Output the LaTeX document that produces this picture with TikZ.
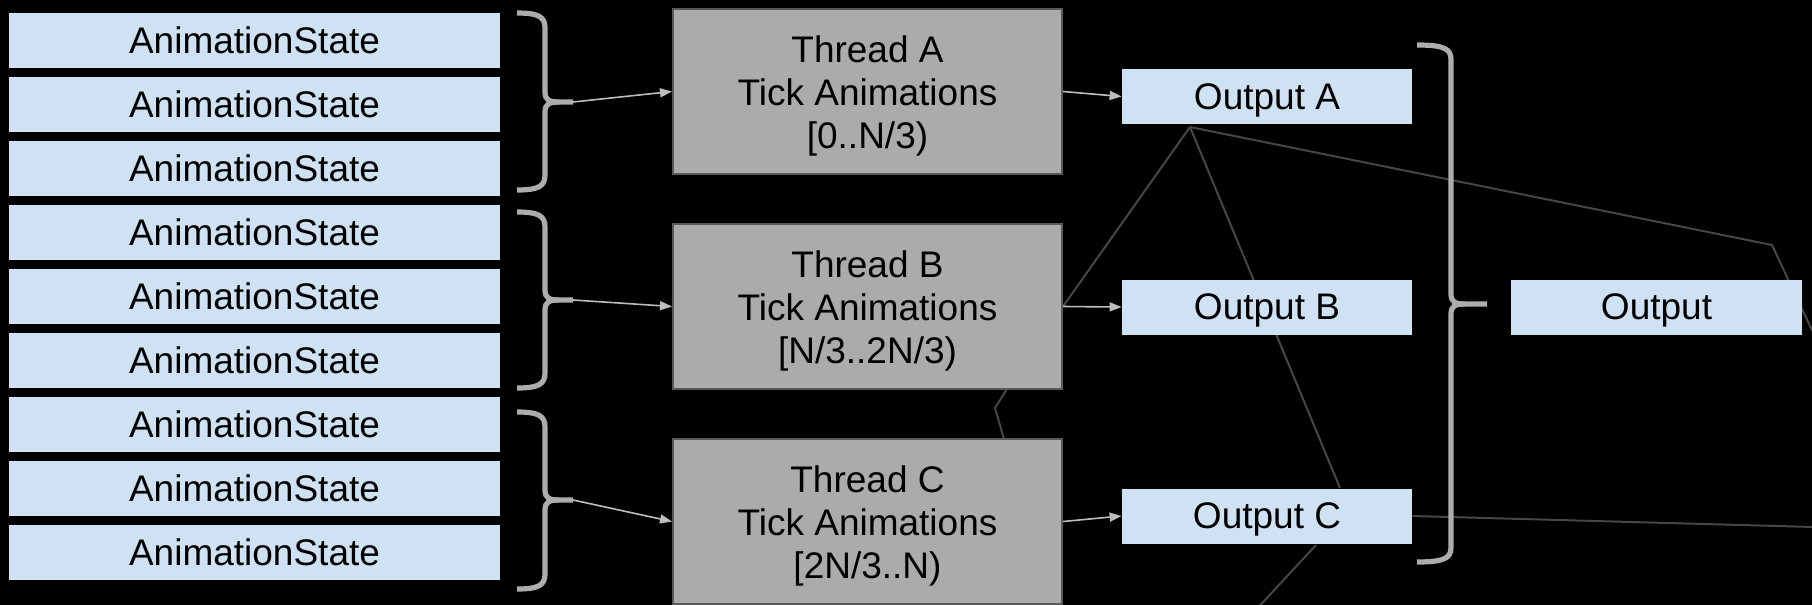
\documentclass[tikz,border=0pt]{standalone}
\usepackage{fontspec}
\setmainfont{Liberation Sans}
\usetikzlibrary{arrows.meta,calc}
\pgfdeclarelayer{bg}
\pgfdeclarelayer{wires}
\pgfsetlayers{bg,wires,main}

\definecolor{statefill}{HTML}{CFE2F3}
\definecolor{threadfill}{HTML}{ABABAB}
\definecolor{threadedge}{HTML}{595959}
\definecolor{bracegray}{HTML}{ADADAD}
\definecolor{arrowgray}{HTML}{BDBDBD}
\definecolor{wiregray}{HTML}{464646}

% extra head room on the first line of a thread label
\newcommand\leadroom{\rule{0pt}{18.2pt}}

% curly brace opening to the right:
% #1 x of the end hooks, #2 x of the spine, #3 x of the point,
% #4 top y, #5 middle y, #6 bottom y, #7 name of the point
\newcommand\gbrace[7]{%
  \draw[bracestroke] (#1,#4) .. controls ({#2-6},#4) and (#2,{#4+4}) .. (#2,{#4+15})
    -- (#2,{#5-10}) .. controls (#2,{#5-2}) and ({#2+4},#5) .. ({#2+14},#5) -- (#3,#5);
  \draw[bracestroke] ({#2+14},#5) .. controls ({#2+4},#5) and (#2,{#5+2}) .. (#2,{#5+10})
    -- (#2,{#6-15}) .. controls (#2,{#6-4}) and ({#2-6},#6) .. (#1,#6);
  \coordinate (#7) at (#3,#5);
}

\begin{document}
\begin{tikzpicture}[x=0.5pt,y=-0.5pt,
  txt/.style={font=\fontsize{18.5}{21.5}\selectfont, text=black, align=center, inner sep=0pt},
  statebox/.style={txt, fill=statefill, minimum width=245.5pt, minimum height=27.5pt},
  outbox/.style={txt, fill=statefill, minimum width=145pt, minimum height=27.5pt, text depth=0pt},
  threadbox/.style={txt, fill=threadfill, draw=threadedge, line width=1pt,
    minimum width=194.5pt, minimum height=82.5pt},
  bracestroke/.style={draw=bracegray, line width=2.6pt},
  feed/.style={draw=arrowgray, line width=0.8pt, -{Triangle[length=6pt,width=4.5pt]}},
  wire/.style={draw=wiregray, line width=1pt}]

\begin{pgfonlayer}{bg}
  \fill[black] (0,0) rectangle (1812,605);
\end{pgfonlayer}
\useasboundingbox (0,0) rectangle (1812,605);

% animation states, three per thread
\foreach \i in {0,...,8}{
  \node[statebox] (s\i) at (254.5,{40+64*\i}) {AnimationState};
}

% worker threads
\node[threadbox] (tA) at (867.5,91.5) {\leadroom Thread A\\Tick Animations\\{}[0..N/3)};
\node[threadbox] (tB) at (867.5,306.5) {\leadroom Thread B\\Tick Animations\\{}[N/3..2N/3)};
\node[threadbox] (tC) at (867.5,521.5) {\leadroom Thread C\\Tick Animations\\{}[2N/3..N)};

% per-thread outputs and the merged output
\node[outbox] (oA) at (1267,96.5) {Output A};
\node[outbox] (oB) at (1267,307) {Output B};
\node[outbox] (oC) at (1267,516) {Output C};
\node[outbox, minimum width=145.5pt] (out) at (1656.5,307) {Output};

% braces grouping the states
\gbrace{517}{545}{573}{13}{102}{190}{g1}
\gbrace{517}{545}{573}{212}{300}{388}{g2}
\gbrace{517}{545}{573}{412}{500}{589}{g3}
\gbrace{1417}{1451}{1487}{45}{304}{562}{g4}

% data flow
\draw[feed] (g1) -- (tA.west);
\draw[feed] (g2) -- (tB.west);
\draw[feed] (g3) -- (tC.west);
\draw[feed] (tA.east) -- (oA.west);
\draw[feed] (tB.east) -- (oB.west);
\draw[feed] (tC.east) -- (oC.west);

% stray connector lines behind the boxes
\begin{pgfonlayer}{wires}
  \clip (0,0) rectangle (1812,605);
  \coordinate (hub) at (1190,127);
  \coordinate (knee) at (1772,245);
  \coordinate (exitR) at (1850,411);
  \coordinate (cTop) at (1340,488);
  \coordinate (exitC) at (1850,528);
  \coordinate (cLow) at (1316,545);
  \coordinate (exitLow) at (1240,627);
  \coordinate (zz1) at (1007,389);
  \coordinate (zz2) at (995,408);
  \coordinate (zz3) at (1004,439);
  \draw[wire] (hub) -- (tB.east);
  \draw[wire] (hub) -- (cTop);
  \draw[wire] (hub) -- (knee) -- (exitR);
  \draw[wire] (oC.east) -- (exitC);
  \draw[wire] (cLow) -- (exitLow);
  \draw[wire] (zz1) -- (zz2) -- (zz3);
\end{pgfonlayer}
\end{tikzpicture}
\end{document}
